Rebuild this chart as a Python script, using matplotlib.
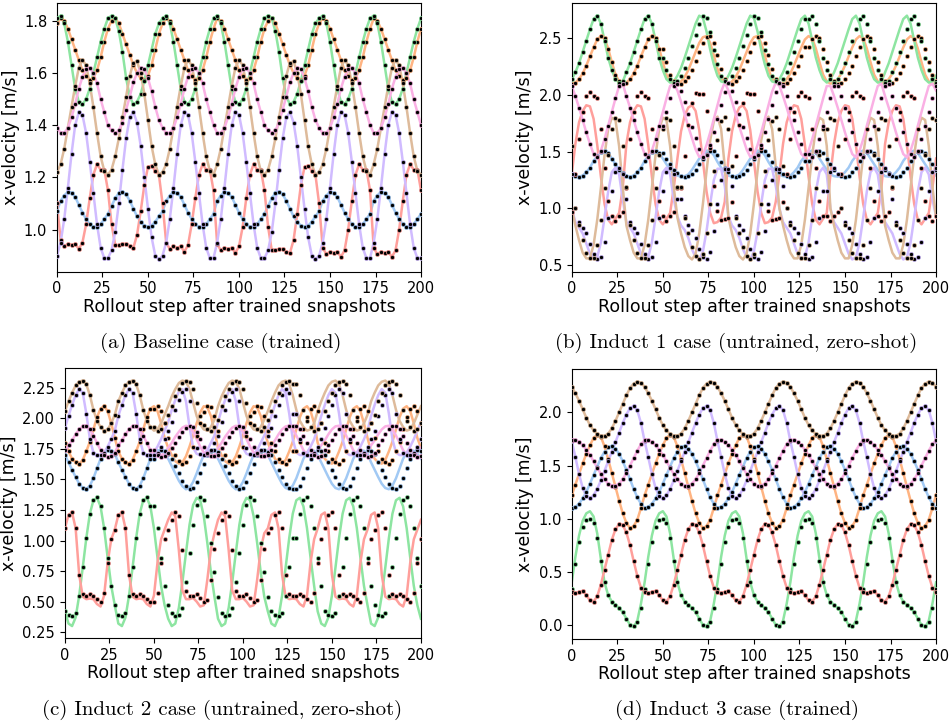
import numpy as np
import matplotlib
matplotlib.use("Agg")
import matplotlib.pyplot as plt
from matplotlib.colors import to_rgba

# rollout steps (one sample every 2 steps)
steps = np.arange(0, 201, 2)
# pastel palette (blue, orange, green, red, purple, brown, pink)
colors = ["#a1c9f4", "#ffb482", "#8de5a1", "#ff9f9b", "#d0bbff", "#debb9b", "#fab0e4"]

# ---------------- (a) Baseline case ----------------
blue_a = [1.07,1.11,1.13,1.145,1.14,1.125,1.095,1.065,1.04,1.02,1.01,1.01,1.02,1.04,1.06,
          1.09,1.12,1.14,1.145,1.135,1.11,1.08,1.05,1.03,1.015,1.01,1.015,1.03,1.05,
          1.07,1.11,1.13,1.145,1.14,1.125,1.095,1.065,1.04,1.02,1.01,1.01,1.02,1.04,1.06,
          1.11,1.13,1.145,1.14,1.125,1.095,1.065,1.04,1.02,1.01,1.01,1.02,1.04,1.06,
          1.09,1.12,1.14,1.145,1.135,1.11,1.08,1.05,1.03,1.015,1.01,1.015,1.03,1.05,
          1.07,1.11,1.13,1.145,1.14,1.125,1.095,1.065,1.04,1.02,1.01,1.01,1.02,1.04,1.06,
          1.11,1.13,1.145,1.14,1.125,1.095,1.065,1.04,1.02,1.01,1.01,1.02,1.04,1.06]
orange_a = [1.79,1.81,1.80,1.77,1.73,1.69,1.65,1.61,1.59,1.575,1.58,1.61,1.66,1.72,1.77,
            1.80,1.81,1.79,1.75,1.71,1.67,1.63,1.60,1.58,1.575,1.59,1.63,1.69,1.75,
            1.79,1.81,1.80,1.77,1.73,1.69,1.65,1.61,1.59,1.575,1.58,1.61,1.66,1.72,1.77,
            1.81,1.80,1.77,1.73,1.69,1.65,1.61,1.59,1.575,1.58,1.61,1.66,1.72,1.77,
            1.80,1.81,1.79,1.75,1.71,1.67,1.63,1.60,1.58,1.575,1.59,1.63,1.69,1.75,
            1.79,1.81,1.80,1.77,1.73,1.69,1.65,1.61,1.59,1.575,1.58,1.61,1.66,1.72,1.77,
            1.81,1.80,1.77,1.73,1.69,1.65,1.61,1.59,1.575,1.58,1.61,1.66,1.72,1.77]
green_a = [1.81,1.82,1.79,1.72,1.63,1.54,1.49,1.48,1.50,1.54,1.60,1.66,1.72,1.77,1.81,
           1.82,1.81,1.76,1.68,1.58,1.51,1.48,1.49,1.52,1.57,1.63,1.69,1.75,1.79,
           1.81,1.82,1.79,1.72,1.63,1.54,1.49,1.48,1.50,1.54,1.60,1.66,1.72,1.77,1.81,
           1.82,1.79,1.72,1.63,1.54,1.49,1.48,1.50,1.54,1.60,1.66,1.72,1.77,1.81,
           1.82,1.81,1.76,1.68,1.58,1.51,1.48,1.49,1.52,1.57,1.63,1.69,1.75,1.79,
           1.81,1.82,1.79,1.72,1.63,1.54,1.49,1.48,1.50,1.54,1.60,1.66,1.72,1.77,1.81,
           1.82,1.79,1.72,1.63,1.54,1.49,1.48,1.50,1.54,1.60,1.66,1.72,1.77,1.81]
red_a = [1.10,0.96,0.935,0.945,0.94,0.945,0.925,0.95,1.02,1.12,1.21,1.25,1.23,1.23,1.15,
         1.02,0.94,0.94,0.945,0.945,0.935,0.93,0.98,1.07,1.17,1.24,1.245,1.225,1.21,
         1.10,0.95,0.925,0.935,0.93,0.935,0.915,0.94,1.02,1.12,1.21,1.25,1.23,1.23,1.15,
         0.945,0.92,0.93,0.925,0.93,0.91,0.935,1.01,1.12,1.21,1.25,1.23,1.23,1.15,
         1.01,0.92,0.92,0.925,0.925,0.915,0.91,0.96,1.06,1.17,1.24,1.245,1.225,1.21,
         1.10,0.93,0.905,0.915,0.91,0.915,0.895,0.92,1.00,1.11,1.21,1.25,1.23,1.23,1.15,
         0.93,0.905,0.915,0.91,0.915,0.895,0.92,1.00,1.11,1.21,1.25,1.23,1.23,1.15]
purple_a = [0.90,0.95,1.04,1.16,1.29,1.40,1.45,1.44,1.37,1.26,1.14,1.02,0.93,0.89,0.89,
            0.92,0.99,1.10,1.23,1.35,1.43,1.45,1.41,1.32,1.20,1.08,0.97,0.90,0.885,
            0.90,0.95,1.04,1.16,1.29,1.40,1.45,1.44,1.37,1.26,1.14,1.02,0.93,0.89,0.89,
            0.95,1.04,1.16,1.29,1.40,1.45,1.44,1.37,1.26,1.14,1.02,0.93,0.89,0.89,
            0.92,0.99,1.10,1.23,1.35,1.43,1.45,1.41,1.32,1.20,1.08,0.97,0.90,0.885,
            0.90,0.95,1.04,1.16,1.29,1.40,1.45,1.44,1.37,1.26,1.14,1.02,0.93,0.89,0.89,
            0.95,1.04,1.16,1.29,1.40,1.45,1.44,1.37,1.26,1.14,1.02,0.93,0.89,0.89]
brown_a = [1.22,1.25,1.31,1.39,1.47,1.55,1.62,1.65,1.63,1.56,1.47,1.37,1.28,1.225,1.21,
           1.23,1.28,1.35,1.43,1.51,1.59,1.64,1.645,1.60,1.52,1.42,1.32,1.25,1.21,
           1.22,1.25,1.31,1.39,1.47,1.55,1.62,1.65,1.63,1.56,1.47,1.37,1.28,1.225,1.21,
           1.25,1.31,1.39,1.47,1.55,1.62,1.65,1.63,1.56,1.47,1.37,1.28,1.225,1.21,
           1.23,1.28,1.35,1.43,1.51,1.59,1.64,1.645,1.60,1.52,1.42,1.32,1.25,1.21,
           1.22,1.25,1.31,1.39,1.47,1.55,1.62,1.65,1.63,1.56,1.47,1.37,1.28,1.225,1.21,
           1.25,1.31,1.39,1.47,1.55,1.62,1.65,1.63,1.56,1.47,1.37,1.28,1.225,1.21]
pink_a = [1.39,1.37,1.37,1.39,1.43,1.48,1.54,1.585,1.615,1.62,1.60,1.56,1.50,1.45,1.40,
          1.38,1.37,1.38,1.41,1.46,1.51,1.565,1.60,1.62,1.615,1.58,1.53,1.47,1.42,
          1.39,1.37,1.37,1.39,1.43,1.48,1.54,1.585,1.615,1.62,1.60,1.56,1.50,1.45,1.40,
          1.37,1.37,1.39,1.43,1.48,1.54,1.585,1.615,1.62,1.60,1.56,1.50,1.45,1.40,
          1.38,1.37,1.38,1.41,1.46,1.51,1.565,1.60,1.62,1.615,1.58,1.53,1.47,1.42,
          1.39,1.37,1.37,1.39,1.43,1.48,1.54,1.585,1.615,1.62,1.60,1.56,1.50,1.45,1.40,
          1.37,1.37,1.39,1.43,1.48,1.54,1.585,1.615,1.62,1.60,1.56,1.50,1.45,1.40]

# ---------------- (b) Induct 1 case: ground truth (lines) ----------------
blue_b = [1.30,1.285,1.28,1.29,1.32,1.36,1.42,1.46,1.50,1.51,1.49,1.44,1.39,1.34,1.31,
          1.285,1.28,1.29,1.32,1.36,1.42,1.46,1.50,1.51,1.49,1.44,1.39,1.34,1.31,
          1.29,1.28,1.285,1.30,1.34,1.39,1.44,1.48,1.51,1.505,1.47,1.41,1.36,1.32,
          1.29,1.28,1.285,1.30,1.34,1.39,1.44,1.48,1.51,1.505,1.47,1.41,1.36,1.32,
          1.30,1.285,1.28,1.29,1.32,1.36,1.42,1.46,1.50,1.51,1.49,1.44,1.39,1.34,
          1.30,1.285,1.28,1.29,1.32,1.36,1.42,1.46,1.50,1.51,1.49,1.44,1.39,1.34,1.31,
          1.285,1.28,1.29,1.32,1.36,1.42,1.46,1.50,1.51,1.49,1.44,1.39,1.34,1.31,
          1.29]
orange_b = [2.10,2.11,2.14,2.19,2.26,2.34,2.42,2.49,2.52,2.50,2.41,2.29,2.18,2.12,2.10,
            2.11,2.14,2.19,2.26,2.34,2.42,2.49,2.52,2.50,2.41,2.29,2.18,2.12,2.10,
            2.10,2.12,2.16,2.22,2.30,2.38,2.46,2.51,2.52,2.46,2.35,2.23,2.14,2.11,
            2.10,2.12,2.16,2.22,2.30,2.38,2.46,2.51,2.52,2.46,2.35,2.23,2.14,2.11,
            2.10,2.11,2.14,2.19,2.26,2.34,2.42,2.49,2.52,2.50,2.41,2.29,2.18,2.12,
            2.10,2.11,2.14,2.19,2.26,2.34,2.42,2.49,2.52,2.50,2.41,2.29,2.18,2.12,2.10,
            2.11,2.14,2.19,2.26,2.34,2.42,2.49,2.52,2.50,2.41,2.29,2.18,2.12,2.10,
            2.10]
green_b = [2.14,2.20,2.28,2.38,2.48,2.58,2.67,2.70,2.63,2.48,2.33,2.22,2.14,2.11,2.12,
           2.20,2.28,2.38,2.48,2.58,2.67,2.70,2.63,2.48,2.33,2.22,2.14,2.11,2.12,
           2.17,2.24,2.33,2.43,2.53,2.63,2.70,2.68,2.56,2.40,2.27,2.17,2.12,2.11,
           2.17,2.24,2.33,2.43,2.53,2.63,2.70,2.68,2.56,2.40,2.27,2.17,2.12,2.11,
           2.14,2.20,2.28,2.38,2.48,2.58,2.67,2.70,2.63,2.48,2.33,2.22,2.14,2.11,
           2.14,2.20,2.28,2.38,2.48,2.58,2.67,2.70,2.63,2.48,2.33,2.22,2.14,2.11,2.12,
           2.20,2.28,2.38,2.48,2.58,2.67,2.70,2.63,2.48,2.33,2.22,2.14,2.11,2.12,
           2.17]
red_b = [1.30,1.57,1.76,1.86,1.91,1.90,1.79,1.56,1.28,1.04,0.90,0.86,0.91,0.96,1.18,
         1.57,1.76,1.86,1.91,1.90,1.79,1.56,1.28,1.04,0.90,0.86,0.91,0.96,1.18,
         1.44,1.68,1.82,1.89,1.91,1.86,1.69,1.42,1.15,0.96,0.87,0.88,0.92,1.06,
         1.44,1.68,1.82,1.89,1.91,1.86,1.69,1.42,1.15,0.96,0.87,0.88,0.92,1.06,
         1.30,1.57,1.76,1.86,1.91,1.90,1.79,1.56,1.28,1.04,0.90,0.86,0.91,0.96,
         1.30,1.57,1.76,1.86,1.91,1.90,1.79,1.56,1.28,1.04,0.90,0.86,0.91,0.96,1.18,
         1.57,1.76,1.86,1.91,1.90,1.79,1.56,1.28,1.04,0.90,0.86,0.91,0.96,1.18,
         1.44]
purple_b = [1.00,0.88,0.83,0.78,0.69,0.60,0.55,0.57,0.70,0.92,1.15,1.32,1.36,1.30,1.08,
            0.88,0.83,0.78,0.69,0.60,0.55,0.57,0.70,0.92,1.15,1.32,1.36,1.30,1.08,
            0.93,0.85,0.81,0.74,0.64,0.57,0.55,0.62,0.80,1.04,1.25,1.35,1.35,1.20,
            0.93,0.85,0.81,0.74,0.64,0.57,0.55,0.62,0.80,1.04,1.25,1.35,1.35,1.20,
            1.00,0.88,0.83,0.78,0.69,0.60,0.55,0.57,0.70,0.92,1.15,1.32,1.36,1.30,
            1.00,0.88,0.83,0.78,0.69,0.60,0.55,0.57,0.70,0.92,1.15,1.32,1.36,1.30,1.08,
            0.88,0.83,0.78,0.69,0.60,0.55,0.57,0.70,0.92,1.15,1.32,1.36,1.30,1.08,
            0.93]
brown_b = [1.00,0.85,0.72,0.61,0.56,0.56,0.68,0.90,1.18,1.47,1.70,1.80,1.78,1.55,1.19,
           0.85,0.72,0.61,0.56,0.56,0.68,0.90,1.18,1.47,1.70,1.80,1.78,1.55,1.19,
           0.92,0.78,0.66,0.58,0.55,0.60,0.78,1.04,1.33,1.60,1.77,1.81,1.70,1.37,
           0.92,0.78,0.66,0.58,0.55,0.60,0.78,1.04,1.33,1.60,1.77,1.81,1.70,1.37,
           1.00,0.85,0.72,0.61,0.56,0.56,0.68,0.90,1.18,1.47,1.70,1.80,1.78,1.55,
           1.00,0.85,0.72,0.61,0.56,0.56,0.68,0.90,1.18,1.47,1.70,1.80,1.78,1.55,1.19,
           0.85,0.72,0.61,0.56,0.56,0.68,0.90,1.18,1.47,1.70,1.80,1.78,1.55,1.19,
           0.92]
pink_b = [2.08,1.99,1.89,1.78,1.67,1.57,1.48,1.45,1.51,1.61,1.73,1.85,1.97,2.08,2.10,
          1.99,1.89,1.78,1.67,1.57,1.48,1.45,1.51,1.61,1.73,1.85,1.97,2.08,2.10,
          2.04,1.94,1.83,1.72,1.62,1.52,1.455,1.47,1.56,1.67,1.79,1.91,2.03,2.11,
          2.04,1.94,1.83,1.72,1.62,1.52,1.455,1.47,1.56,1.67,1.79,1.91,2.03,2.11,
          2.08,1.99,1.89,1.78,1.67,1.57,1.48,1.45,1.51,1.61,1.73,1.85,1.97,2.08,
          2.08,1.99,1.89,1.78,1.67,1.57,1.48,1.45,1.51,1.61,1.73,1.85,1.97,2.08,2.10,
          1.99,1.89,1.78,1.67,1.57,1.48,1.45,1.51,1.61,1.73,1.85,1.97,2.08,2.10,
          2.04]

# ---------------- (b) Induct 1 case: rollout (dots) ----------------
blue_b_pred = [1.30,1.285,1.28,1.29,1.32,1.36,1.42,1.46,1.50,1.51,1.49,1.44,1.39,1.34,1.31,
               1.285,1.28,1.29,1.32,1.36,1.42,1.46,1.50,1.51,1.49,
               1.49,1.44,1.39,1.34,1.31,
               1.29,1.28,1.285,1.30,1.34,1.39,1.44,1.48,1.51,1.505,1.47,1.41,1.36,1.32,
               1.29,1.28,1.285,1.30,1.34,1.39,1.44,1.48,1.51,1.505,1.47,1.41,1.36,1.32,
               1.30,1.285,1.28,1.29,1.32,1.36,1.42,
               1.42,1.46,1.50,1.51,1.49,1.44,1.39,1.34,
               1.30,1.285,1.28,1.29,1.32,1.36,1.42,1.46,1.50,1.51,1.49,1.44,1.39,1.34,1.31,
               1.285,1.28,1.29,1.32,1.36,1.42,1.46,1.50,1.51,1.49,1.44,1.39,1.34]
orange_b_pred = [2.10,2.11,2.14,2.19,2.26,2.34,2.42,2.49,2.52,2.50,2.41,2.29,2.18,2.12,2.10,
                 2.11,2.14,2.19,2.26,2.34,2.42,2.49,2.52,2.50,2.41,
                 2.41,2.29,2.18,2.12,2.10,
                 2.10,2.12,2.16,2.22,2.30,2.38,2.46,2.51,2.52,2.46,2.35,2.23,2.14,2.11,
                 2.10,2.12,2.16,2.22,2.30,2.38,2.46,2.51,2.52,2.46,2.35,2.23,2.14,2.11,
                 2.10,2.11,2.14,2.19,2.26,2.34,2.42,
                 2.42,2.49,2.52,2.50,2.41,2.29,2.18,2.12,
                 2.10,2.11,2.14,2.19,2.26,2.34,2.42,2.49,2.52,2.50,2.41,2.29,2.18,2.12,2.10,
                 2.11,2.14,2.19,2.26,2.34,2.42,2.49,2.52,2.50,2.41,2.29,2.18,2.12]
green_b_pred = [2.14,2.20,2.28,2.38,2.48,2.58,2.67,2.70,2.63,2.48,2.33,2.22,2.14,2.11,2.12,
                2.20,2.28,2.38,2.48,2.58,2.67,2.70,2.63,2.48,2.33,
                2.33,2.22,2.14,2.11,2.12,
                2.17,2.24,2.33,2.43,2.53,2.63,2.70,2.68,2.56,2.40,2.27,2.17,2.12,2.11,
                2.17,2.24,2.33,2.43,2.53,2.63,2.70,2.68,2.56,2.40,2.27,2.17,2.12,2.11,
                2.14,2.20,2.28,2.38,2.48,2.58,2.67,
                2.67,2.70,2.63,2.48,2.33,2.22,2.14,2.11,
                2.14,2.20,2.28,2.38,2.48,2.58,2.67,2.70,2.63,2.48,2.33,2.22,2.14,2.11,2.12,
                2.20,2.28,2.38,2.48,2.58,2.67,2.70,2.63,2.48,2.33,2.22,2.14,2.11]
red_b_pred = [0.97,
              1.30,1.61,1.85,1.99,2.03,1.99,1.97,1.70,1.36,1.07,0.93,0.89,0.93,0.97,1.18,
              1.61,1.85,1.99,2.03,1.99,1.97,1.70,1.36,1.07,0.93,0.89,0.93,0.97,1.18,
              1.18,
              1.46,1.74,1.93,2.02,2.01,2.01,1.86,1.53,1.20,0.98,0.90,0.91,0.92,1.06,
              1.46,1.74,1.93,2.02,2.01,2.01,1.86,1.53,1.20,0.98,0.90,0.91,0.92,1.06,
              1.30,1.61,1.85,1.99,2.03,1.99,1.97,1.70,1.36,1.07,0.93,
              0.93,0.89,0.93,0.97,
              1.30,1.61,1.85,1.99,2.03,1.99,1.97,1.70,1.36,1.07,0.93,0.89,0.93,0.97,1.18,
              1.61,1.85,1.99,2.03,1.99,1.97,1.70,1.36,1.07,0.93,0.89,0.93]
purple_b_pred = [1.30,
                 1.00,0.88,0.83,0.78,0.69,0.60,0.55,0.57,0.70,0.92,1.15,1.32,1.36,1.30,1.08,
                 0.88,0.83,0.78,0.69,0.60,0.55,0.57,0.70,0.92,1.15,1.32,1.36,1.30,1.08,
                 1.08,
                 0.93,0.85,0.81,0.74,0.64,0.57,0.55,0.62,0.80,1.04,1.25,1.35,1.35,1.20,
                 0.93,0.85,0.81,0.74,0.64,0.57,0.55,0.62,0.80,1.04,1.25,1.35,1.35,1.20,
                 1.00,0.88,0.83,0.78,0.69,0.60,0.55,0.57,0.70,0.92,1.15,
                 1.15,1.32,1.36,1.30,
                 1.00,0.88,0.83,0.78,0.69,0.60,0.55,0.57,0.70,0.92,1.15,1.32,1.36,1.30,1.08,
                 0.88,0.83,0.78,0.69,0.60,0.55,0.57,0.70,0.92,1.15,1.32,1.36]
brown_b_pred = [1.55,
                1.00,0.85,0.72,0.61,0.56,0.56,0.68,0.90,1.18,1.47,1.70,1.80,1.78,1.55,1.19,
                0.85,0.72,0.61,0.56,0.56,0.68,0.90,1.18,1.47,1.70,1.80,1.78,1.55,1.19,
                1.19,
                0.92,0.78,0.66,0.58,0.55,0.60,0.78,1.04,1.33,1.60,1.77,1.81,1.70,1.37,
                0.92,0.78,0.66,0.58,0.55,0.60,0.78,1.04,1.33,1.60,1.77,1.81,1.70,1.37,
                1.00,0.85,0.72,0.61,0.56,0.56,0.68,0.90,1.18,1.47,1.70,
                1.70,1.80,1.78,1.55,
                1.00,0.85,0.72,0.61,0.56,0.56,0.68,0.90,1.18,1.47,1.70,1.80,1.78,1.55,1.19,
                0.85,0.72,0.61,0.56,0.56,0.68,0.90,1.18,1.47,1.70,1.80,1.78]
pink_b_pred = [2.08,1.99,1.89,1.78,1.67,1.57,1.48,1.45,1.51,1.61,1.73,1.85,1.97,2.08,2.10,
               1.99,1.89,1.78,1.67,1.57,1.48,1.45,1.51,1.61,1.73,
               1.73,1.85,1.97,2.08,2.10,
               2.04,1.94,1.83,1.72,1.62,1.52,1.455,1.47,1.56,1.67,1.79,1.91,2.03,2.11,
               2.04,1.94,1.83,1.72,1.62,1.52,1.455,1.47,1.56,1.67,1.79,1.91,2.03,2.11,
               2.08,1.99,1.89,1.78,1.67,1.57,1.48,
               1.48,1.45,1.51,1.61,1.73,1.85,1.97,2.08,
               2.08,1.99,1.89,1.78,1.67,1.57,1.48,1.45,1.51,1.61,1.73,1.85,1.97,2.08,2.10,
               1.99,1.89,1.78,1.67,1.57,1.48,1.45,1.51,1.61,1.73,1.85,1.97,2.08]

# ---------------- (c) Induct 2 case: ground truth (lines) ----------------
blue_c = [1.70,1.64,1.58,1.52,1.465,1.43,1.42,1.45,1.51,1.59,1.67,1.72,1.74,1.735,1.71,
          1.64,1.58,1.52,1.465,1.43,1.42,1.45,1.51,1.59,1.67,1.72,1.74,1.735,1.71,
          1.67,1.61,1.55,1.49,1.445,1.42,1.43,1.48,1.55,1.63,1.70,1.735,1.74,1.725,
          1.67,1.61,1.55,1.49,1.445,1.42,1.43,1.48,1.55,1.63,1.70,1.735,1.74,1.725,
          1.70,1.64,1.58,1.52,1.465,1.43,1.42,1.45,1.51,1.59,1.67,1.72,1.74,1.735,
          1.70,1.64,1.58,1.52,1.465,1.43,1.42,1.45,1.51,1.59,1.67,1.72,1.74,1.735,1.71,
          1.64,1.58,1.52,1.465,1.43,1.42,1.45,1.51,1.59,1.67,1.72,1.74,1.735,1.71,
          1.67]
orange_c = [1.80,1.73,1.67,1.64,1.63,1.66,1.73,1.81,1.91,2.01,2.08,2.10,2.06,1.96,1.84,
            1.73,1.67,1.64,1.63,1.66,1.73,1.81,1.91,2.01,2.08,2.10,2.06,1.96,1.84,
            1.76,1.70,1.65,1.63,1.64,1.69,1.77,1.86,1.96,2.05,2.10,2.09,2.02,1.90,
            1.76,1.70,1.65,1.63,1.64,1.69,1.77,1.86,1.96,2.05,2.10,2.09,2.02,1.90,
            1.80,1.73,1.67,1.64,1.63,1.66,1.73,1.81,1.91,2.01,2.08,2.10,2.06,1.96,
            1.80,1.73,1.67,1.64,1.63,1.66,1.73,1.81,1.91,2.01,2.08,2.10,2.06,1.96,1.84,
            1.73,1.67,1.64,1.63,1.66,1.73,1.81,1.91,2.01,2.08,2.10,2.06,1.96,1.84,
            1.76]
green_c = [0.42,0.32,0.30,0.37,0.55,0.78,1.02,1.22,1.33,1.35,1.28,1.10,0.86,0.63,0.47,
           0.32,0.30,0.37,0.55,0.78,1.02,1.22,1.33,1.35,1.28,1.10,0.86,0.63,0.47,
           0.36,0.30,0.32,0.45,0.66,0.90,1.13,1.29,1.35,1.33,1.20,0.98,0.74,0.54,
           0.36,0.30,0.32,0.45,0.66,0.90,1.13,1.29,1.35,1.33,1.20,0.98,0.74,0.54,
           0.42,0.32,0.30,0.37,0.55,0.78,1.02,1.22,1.33,1.35,1.28,1.10,0.86,0.63,
           0.42,0.32,0.30,0.37,0.55,0.78,1.02,1.22,1.33,1.35,1.28,1.10,0.86,0.63,0.47,
           0.32,0.30,0.37,0.55,0.78,1.02,1.22,1.33,1.35,1.28,1.10,0.86,0.63,0.47,
           0.36]
red_c = [1.10,1.21,1.23,1.10,0.72,0.54,0.52,0.525,0.52,0.48,0.46,0.55,0.82,1.01,1.09,
         1.21,1.23,1.10,0.72,0.54,0.52,0.525,0.52,0.48,0.46,0.55,0.82,1.01,1.09,
         1.17,1.23,1.20,0.92,0.59,0.52,0.52,0.53,0.50,0.46,0.47,0.68,0.93,1.06,
         1.17,1.23,1.20,0.92,0.59,0.52,0.52,0.53,0.50,0.46,0.47,0.68,0.93,1.06,
         1.10,1.21,1.23,1.10,0.72,0.54,0.52,0.525,0.52,0.48,0.46,0.55,0.82,1.01,
         1.10,1.21,1.23,1.10,0.72,0.54,0.52,0.525,0.52,0.48,0.46,0.55,0.82,1.01,1.09,
         1.21,1.23,1.10,0.72,0.54,0.52,0.525,0.52,0.48,0.46,0.55,0.82,1.01,1.09,
         1.17]
purple_c = [1.92,2.02,2.11,2.19,2.24,2.21,2.04,1.83,1.72,1.70,1.70,1.72,1.77,1.83,1.90,
            2.02,2.11,2.19,2.24,2.21,2.04,1.83,1.72,1.70,1.70,1.72,1.77,1.83,1.90,
            1.97,2.07,2.15,2.22,2.24,2.14,1.93,1.76,1.71,1.70,1.71,1.74,1.80,1.86,
            1.97,2.07,2.15,2.22,2.24,2.14,1.93,1.76,1.71,1.70,1.71,1.74,1.80,1.86,
            1.92,2.02,2.11,2.19,2.24,2.21,2.04,1.83,1.72,1.70,1.70,1.72,1.77,1.83,
            1.92,2.02,2.11,2.19,2.24,2.21,2.04,1.83,1.72,1.70,1.70,1.72,1.77,1.83,1.90,
            2.02,2.11,2.19,2.24,2.21,2.04,1.83,1.72,1.70,1.70,1.72,1.77,1.83,1.90,
            1.97]
brown_c = [2.06,2.14,2.21,2.27,2.30,2.31,2.28,2.19,2.07,1.98,1.93,1.90,1.91,1.96,2.03,
           2.14,2.21,2.27,2.30,2.31,2.28,2.19,2.07,1.98,1.93,1.90,1.91,1.96,2.03,
           2.10,2.18,2.24,2.29,2.31,2.30,2.24,2.13,2.02,1.95,1.91,1.90,1.93,1.99,
           2.10,2.18,2.24,2.29,2.31,2.30,2.24,2.13,2.02,1.95,1.91,1.90,1.93,1.99,
           2.06,2.14,2.21,2.27,2.30,2.31,2.28,2.19,2.07,1.98,1.93,1.90,1.91,1.96,
           2.06,2.14,2.21,2.27,2.30,2.31,2.28,2.19,2.07,1.98,1.93,1.90,1.91,1.96,2.03,
           2.14,2.21,2.27,2.30,2.31,2.28,2.19,2.07,1.98,1.93,1.90,1.91,1.96,2.03,
           2.10]
pink_c = [1.74,1.78,1.82,1.87,1.91,1.935,1.94,1.91,1.86,1.80,1.74,1.70,1.685,1.695,1.72,
          1.78,1.82,1.87,1.91,1.935,1.94,1.91,1.86,1.80,1.74,1.70,1.685,1.695,1.72,
          1.76,1.80,1.85,1.89,1.925,1.94,1.93,1.89,1.83,1.77,1.72,1.69,1.69,1.70,
          1.76,1.80,1.85,1.89,1.925,1.94,1.93,1.89,1.83,1.77,1.72,1.69,1.69,1.70,
          1.74,1.78,1.82,1.87,1.91,1.935,1.94,1.91,1.86,1.80,1.74,1.70,1.685,1.695,
          1.74,1.78,1.82,1.87,1.91,1.935,1.94,1.91,1.86,1.80,1.74,1.70,1.685,1.695,1.72,
          1.78,1.82,1.87,1.91,1.935,1.94,1.91,1.86,1.80,1.74,1.70,1.685,1.695,1.72,
          1.76]

# ---------------- (c) Induct 2 case: rollout (dots) ----------------
blue_c_pred = [1.70,1.64,1.58,1.52,1.465,1.43,1.42,1.45,1.51,1.59,1.67,1.72,1.74,1.735,1.71,
               1.64,1.58,1.52,1.465,1.43,1.42,1.45,1.51,1.59,1.67,
               1.67,1.72,1.74,1.735,1.71,
               1.67,1.61,1.55,1.49,1.445,1.42,1.43,1.48,1.55,1.63,1.70,1.735,1.74,1.725,
               1.67,1.61,1.55,1.49,1.445,1.42,1.43,1.48,1.55,1.63,1.70,1.735,1.74,1.725,
               1.70,1.64,1.58,1.52,1.465,1.43,1.42,
               1.42,1.45,1.51,1.59,1.67,1.72,1.74,1.735,
               1.70,1.64,1.58,1.52,1.465,1.43,1.42,1.45,1.51,1.59,1.67,1.72,1.74,1.735,1.71,
               1.64,1.58,1.52,1.465,1.43,1.42,1.45,1.51,1.59,1.67,1.72,1.74,1.735]
orange_c_pred = [1.80,1.73,1.67,1.64,1.63,1.66,1.73,1.81,1.91,2.01,2.08,2.10,2.06,1.96,1.84,
                 1.73,1.67,1.64,1.63,1.66,1.73,1.81,1.91,2.01,2.08,
                 2.08,2.10,2.06,1.96,1.84,
                 1.76,1.70,1.65,1.63,1.64,1.69,1.77,1.86,1.96,2.05,2.10,2.09,2.02,1.90,
                 1.76,1.70,1.65,1.63,1.64,1.69,1.77,1.86,1.96,2.05,2.10,2.09,2.02,1.90,
                 1.80,1.73,1.67,1.64,1.63,1.66,1.73,
                 1.73,1.81,1.91,2.01,2.08,2.10,2.06,1.96,
                 1.80,1.73,1.67,1.64,1.63,1.66,1.73,1.81,1.91,2.01,2.08,2.10,2.06,1.96,1.84,
                 1.73,1.67,1.64,1.63,1.66,1.73,1.81,1.91,2.01,2.08,2.10,2.06,1.96]
green_c_pred = [0.42,0.39,0.38,0.41,0.55,0.78,1.02,1.22,1.33,1.36,1.28,1.10,0.86,0.63,0.47,
                0.39,0.38,0.41,0.55,0.78,1.02,1.22,1.33,1.36,1.28,
                1.28,1.10,0.86,0.63,0.47,
                0.41,0.38,0.39,0.45,0.66,0.90,1.13,1.29,1.36,1.33,1.20,0.98,0.74,0.54,
                0.41,0.38,0.39,0.45,0.66,0.90,1.13,1.29,1.36,1.33,1.20,0.98,0.74,0.54,
                0.42,0.39,0.38,0.41,0.55,0.78,1.02,
                1.02,1.22,1.33,1.36,1.28,1.10,0.86,0.63,
                0.42,0.39,0.38,0.41,0.55,0.78,1.02,1.22,1.33,1.36,1.28,1.10,0.86,0.63,0.47,
                0.39,0.38,0.41,0.55,0.78,1.02,1.22,1.33,1.36,1.28,1.10,0.86,0.63]
red_c_pred = [1.10,1.21,1.23,1.10,0.72,0.56,0.55,0.56,0.55,0.52,0.50,0.57,0.82,1.01,1.09,
              1.21,1.23,1.10,0.72,0.56,0.55,0.56,0.55,0.52,0.50,
              0.50,0.57,0.82,1.01,1.09,
              1.17,1.23,1.20,0.92,0.59,0.55,0.55,0.56,0.53,0.50,0.51,0.68,0.93,1.06,
              1.17,1.23,1.20,0.92,0.59,0.55,0.55,0.56,0.53,0.50,0.51,0.68,0.93,1.06,
              1.10,1.21,1.23,1.10,0.72,0.56,0.55,
              0.55,0.56,0.55,0.52,0.50,0.57,0.82,1.01,
              1.10,1.21,1.23,1.10,0.72,0.56,0.55,0.56,0.55,0.52,0.50,0.57,0.82,1.01,1.09,
              1.21,1.23,1.10,0.72,0.56,0.55,0.56,0.55,0.52,0.50,0.57,0.82,1.01]
purple_c_pred = [1.92,2.02,2.11,2.19,2.24,2.21,2.04,1.83,1.72,1.70,1.70,1.72,1.77,1.83,1.90,
                 2.02,2.11,2.19,2.24,2.21,2.04,1.83,1.72,1.70,1.70,
                 1.70,1.72,1.77,1.83,1.90,
                 1.97,2.07,2.15,2.22,2.24,2.14,1.93,1.76,1.71,1.70,1.71,1.74,1.80,1.86,
                 1.97,2.07,2.15,2.22,2.24,2.14,1.93,1.76,1.71,1.70,1.71,1.74,1.80,1.86,
                 1.92,2.02,2.11,2.19,2.24,2.21,2.04,
                 2.04,1.83,1.72,1.70,1.70,1.72,1.77,1.83,
                 1.92,2.02,2.11,2.19,2.24,2.21,2.04,1.83,1.72,1.70,1.70,1.72,1.77,1.83,1.90,
                 2.02,2.11,2.19,2.24,2.21,2.04,1.83,1.72,1.70,1.70,1.72,1.77,1.83]
brown_c_pred = [2.06,2.14,2.21,2.27,2.30,2.31,2.28,2.19,2.07,1.98,1.93,1.90,1.91,1.96,2.03,
                2.14,2.21,2.27,2.30,2.31,2.28,2.19,2.07,1.98,1.93,
                1.93,1.90,1.91,1.96,2.03,
                2.10,2.18,2.24,2.29,2.31,2.30,2.24,2.13,2.02,1.95,1.91,1.90,1.93,1.99,
                2.10,2.18,2.24,2.29,2.31,2.30,2.24,2.13,2.02,1.95,1.91,1.90,1.93,1.99,
                2.06,2.14,2.21,2.27,2.30,2.31,2.28,
                2.28,2.19,2.07,1.98,1.93,1.90,1.91,1.96,
                2.06,2.14,2.21,2.27,2.30,2.31,2.28,2.19,2.07,1.98,1.93,1.90,1.91,1.96,2.03,
                2.14,2.21,2.27,2.30,2.31,2.28,2.19,2.07,1.98,1.93,1.90,1.91,1.96]
pink_c_pred = [1.74,1.78,1.82,1.87,1.91,1.935,1.94,1.91,1.86,1.80,1.74,1.70,1.685,1.695,1.72,
               1.78,1.82,1.87,1.91,1.935,1.94,1.91,1.86,1.80,1.74,
               1.74,1.70,1.685,1.695,1.72,
               1.76,1.80,1.85,1.89,1.925,1.94,1.93,1.89,1.83,1.77,1.72,1.69,1.69,1.70,
               1.76,1.80,1.85,1.89,1.925,1.94,1.93,1.89,1.83,1.77,1.72,1.69,1.69,1.70,
               1.74,1.78,1.82,1.87,1.91,1.935,1.94,
               1.94,1.91,1.86,1.80,1.74,1.70,1.685,1.695,
               1.74,1.78,1.82,1.87,1.91,1.935,1.94,1.91,1.86,1.80,1.74,1.70,1.685,1.695,1.72,
               1.78,1.82,1.87,1.91,1.935,1.94,1.91,1.86,1.80,1.74,1.70,1.685,1.695]

# ---------------- (d) Induct 3 case ----------------
blue_d = [1.10,1.11,1.14,1.19,1.25,1.33,1.41,1.49,1.57,1.63,1.67,1.68,1.66,1.61,1.54,1.46,1.37,1.28,1.20,1.14,
          1.10,1.11,1.14,1.19,1.25,1.33,1.41,1.49,1.57,1.63,1.67,1.68,1.66,1.61,1.54,1.46,1.37,1.28,1.20,1.14,
          1.10,1.11,1.14,1.19,1.25,1.33,1.41,1.49,1.57,1.63,1.67,1.68,1.66,1.61,1.54,1.46,1.37,1.28,1.20,1.14,
          1.10,1.11,1.14,1.19,1.25,1.33,1.41,1.49,1.57,1.63,1.67,1.68,1.66,1.61,1.54,1.46,1.37,1.28,1.20,1.14,
          1.10,1.11,1.14,1.19,1.25,1.33,1.41,1.49,1.57,1.63,1.67,1.68,1.66,1.61,1.54,1.46,1.37,1.28,1.20,1.14,
          1.10]
orange_d = [1.22,1.32,1.42,1.52,1.61,1.69,1.76,1.79,1.77,1.68,1.56,1.43,1.30,1.17,1.05,0.96,0.91,0.93,0.99,1.10,
            1.22,1.32,1.42,1.52,1.61,1.69,1.76,1.79,1.77,1.68,1.56,1.43,1.30,1.17,1.05,0.96,0.91,0.93,0.99,1.10,
            1.22,1.32,1.42,1.52,1.61,1.69,1.76,1.79,1.77,1.68,1.56,1.43,1.30,1.17,1.05,0.96,0.91,0.93,0.99,1.10,
            1.22,1.32,1.42,1.52,1.61,1.69,1.76,1.79,1.77,1.68,1.56,1.43,1.30,1.17,1.05,0.96,0.91,0.93,0.99,1.10,
            1.22,1.32,1.42,1.52,1.61,1.69,1.76,1.79,1.77,1.68,1.56,1.43,1.30,1.17,1.05,0.96,0.91,0.93,0.99,1.10,
            1.22]
green_d = [0.40,0.64,0.84,0.98,1.05,1.07,1.02,0.86,0.62,0.40,0.28,0.22,0.19,0.16,0.12,0.06,0.00,-0.02,0.04,0.20,
           0.40,0.64,0.84,0.98,1.05,1.07,1.02,0.86,0.62,0.40,0.28,0.22,0.19,0.16,0.12,0.06,0.00,-0.02,0.04,0.20,
           0.40,0.64,0.84,0.98,1.05,1.07,1.02,0.86,0.62,0.40,0.28,0.22,0.19,0.16,0.12,0.06,0.00,-0.02,0.04,0.20,
           0.40,0.64,0.84,0.98,1.05,1.07,1.02,0.86,0.62,0.40,0.28,0.22,0.19,0.16,0.12,0.06,0.00,-0.02,0.04,0.20,
           0.40,0.64,0.84,0.98,1.05,1.07,1.02,0.86,0.62,0.40,0.28,0.22,0.19,0.16,0.12,0.06,0.00,-0.02,0.04,0.20,
           0.40]
green_d_pred = [0.34,0.57,0.78,0.92,0.99,1.00,0.96,0.82,0.60,0.40,0.28,0.22,0.19,0.16,0.12,0.06,0.00,-0.01,0.03,0.16,
                0.34,0.57,0.78,0.92,0.99,1.00,0.96,0.82,0.60,0.40,0.28,0.22,0.19,0.16,0.12,0.06,0.00,-0.01,0.03,0.16,
                0.34,0.57,0.78,0.92,0.99,1.00,0.96,0.82,0.60,0.40,0.28,0.22,0.19,0.16,0.12,0.06,0.00,-0.01,0.03,0.16,
                0.34,0.57,0.78,0.92,0.99,1.00,0.96,0.82,0.60,0.40,0.28,0.22,0.19,0.16,0.12,0.06,0.00,-0.01,0.03,0.16,
                0.34,0.57,0.78,0.92,0.99,1.00,0.96,0.82,0.60,0.40,0.28,0.22,0.19,0.16,0.12,0.06,0.00,-0.01,0.03,0.16,
                0.34]
red_d = [0.31,0.30,0.31,0.32,0.28,0.23,0.22,0.27,0.38,0.52,0.66,0.80,0.90,0.95,0.94,0.87,0.75,0.60,0.46,0.35,
         0.31,0.30,0.31,0.32,0.28,0.23,0.22,0.27,0.38,0.52,0.66,0.80,0.90,0.95,0.94,0.87,0.75,0.60,0.46,0.35,
         0.31,0.30,0.31,0.32,0.28,0.23,0.22,0.27,0.38,0.52,0.66,0.80,0.90,0.95,0.94,0.87,0.75,0.60,0.46,0.35,
         0.31,0.30,0.31,0.32,0.28,0.23,0.22,0.27,0.38,0.52,0.66,0.80,0.90,0.95,0.94,0.87,0.75,0.60,0.46,0.35,
         0.31,0.30,0.31,0.32,0.28,0.23,0.22,0.27,0.38,0.52,0.66,0.80,0.90,0.95,0.94,0.87,0.75,0.60,0.46,0.35,
         0.31]
purple_d = [1.73,1.58,1.42,1.29,1.21,1.19,1.22,1.28,1.36,1.45,1.54,1.63,1.72,1.81,1.90,1.98,2.04,2.06,2.02,1.90,
            1.73,1.58,1.42,1.29,1.21,1.19,1.22,1.28,1.36,1.45,1.54,1.63,1.72,1.81,1.90,1.98,2.04,2.06,2.02,1.90,
            1.73,1.58,1.42,1.29,1.21,1.19,1.22,1.28,1.36,1.45,1.54,1.63,1.72,1.81,1.90,1.98,2.04,2.06,2.02,1.90,
            1.73,1.58,1.42,1.29,1.21,1.19,1.22,1.28,1.36,1.45,1.54,1.63,1.72,1.81,1.90,1.98,2.04,2.06,2.02,1.90,
            1.73,1.58,1.42,1.29,1.21,1.19,1.22,1.28,1.36,1.45,1.54,1.63,1.72,1.81,1.90,1.98,2.04,2.06,2.02,1.90,
            1.73]
brown_d = [2.24,2.18,2.11,2.03,1.95,1.88,1.83,1.795,1.78,1.78,1.80,1.85,1.92,2.00,2.08,2.16,2.23,2.27,2.29,2.28,
           2.24,2.18,2.11,2.03,1.95,1.88,1.83,1.795,1.78,1.78,1.80,1.85,1.92,2.00,2.08,2.16,2.23,2.27,2.29,2.28,
           2.24,2.18,2.11,2.03,1.95,1.88,1.83,1.795,1.78,1.78,1.80,1.85,1.92,2.00,2.08,2.16,2.23,2.27,2.29,2.28,
           2.24,2.18,2.11,2.03,1.95,1.88,1.83,1.795,1.78,1.78,1.80,1.85,1.92,2.00,2.08,2.16,2.23,2.27,2.29,2.28,
           2.24,2.18,2.11,2.03,1.95,1.88,1.83,1.795,1.78,1.78,1.80,1.85,1.92,2.00,2.08,2.16,2.23,2.27,2.29,2.28,
           2.24]
pink_d = [1.74,1.74,1.72,1.69,1.65,1.60,1.54,1.48,1.42,1.37,1.33,1.31,1.31,1.33,1.37,1.43,1.50,1.57,1.64,1.70,
          1.74,1.74,1.72,1.69,1.65,1.60,1.54,1.48,1.42,1.37,1.33,1.31,1.31,1.33,1.37,1.43,1.50,1.57,1.64,1.70,
          1.74,1.74,1.72,1.69,1.65,1.60,1.54,1.48,1.42,1.37,1.33,1.31,1.31,1.33,1.37,1.43,1.50,1.57,1.64,1.70,
          1.74,1.74,1.72,1.69,1.65,1.60,1.54,1.48,1.42,1.37,1.33,1.31,1.31,1.33,1.37,1.43,1.50,1.57,1.64,1.70,
          1.74,1.74,1.72,1.69,1.65,1.60,1.54,1.48,1.42,1.37,1.33,1.31,1.31,1.33,1.37,1.43,1.50,1.57,1.64,1.70,
          1.74]

panels = [
    dict(pos=[0.0599, 0.6237, 0.3828, 0.3715],
         truth=[blue_a, orange_a, green_a, red_a, purple_a, brown_a, pink_a],
         pred=[blue_a, orange_a, green_a, red_a, purple_a, brown_a, pink_a],
         yticks=[1.0, 1.2, 1.4, 1.6, 1.8], fmt="{:.1f}",
         caption="(a) Baseline case (trained)", cap_xy=(221, 343)),
    dict(pos=[0.6012, 0.6237, 0.3831, 0.3715],
         truth=[blue_b, orange_b, green_b, red_b, purple_b, brown_b, pink_b],
         pred=[blue_b_pred, orange_b_pred, green_b_pred, red_b_pred, purple_b_pred, brown_b_pred, pink_b_pred],
         yticks=[0.5, 1.0, 1.5, 2.0, 2.5], fmt="{:.1f}",
         caption="(b) Induct 1 case (untrained, zero-shot)", cap_xy=(736, 343)),
    dict(pos=[0.0683, 0.1159, 0.3743, 0.374],
         truth=[blue_c, orange_c, green_c, red_c, purple_c, brown_c, pink_c],
         pred=[blue_c_pred, orange_c_pred, green_c_pred, red_c_pred, purple_c_pred, brown_c_pred, pink_c_pred],
         yticks=[0.25, 0.5, 0.75, 1.0, 1.25, 1.5, 1.75, 2.0, 2.25], fmt="{:.2f}",
         caption="(c) Induct 2 case (untrained, zero-shot)", cap_xy=(222, 710)),
    dict(pos=[0.6012, 0.1145, 0.3831, 0.374],
         truth=[blue_d, orange_d, green_d, red_d, purple_d, brown_d, pink_d],
         pred=[blue_d, orange_d, green_d_pred, red_d, purple_d, brown_d, pink_d],
         yticks=[0.0, 0.5, 1.0, 1.5, 2.0], fmt="{:.1f}",
         caption="(d) Induct 3 case (trained)", cap_xy=(737, 710)),
]

W, H = 951, 722
fig = plt.figure(figsize=(W / 100, H / 100), dpi=100)

for p in panels:
    ax = fig.add_axes(p["pos"])
    for y, c in zip(p["truth"], colors):
        ax.plot(steps, y, color=c, lw=1.8, zorder=2)
    for y, c in zip(p["pred"], colors):
        ax.plot(steps, y, ls="none", marker="o", ms=3.0, mfc="black",
                mec=to_rgba(c, 0.8), mew=0.6, zorder=3)
    ax.set_xlim(0, 200)
    ax.set_xticks([0, 25, 50, 75, 100, 125, 150, 175, 200])
    ax.set_yticks(p["yticks"])
    ax.set_yticklabels([p["fmt"].format(v) for v in p["yticks"]])
    ax.tick_params(labelsize=10.5)
    ax.set_xlabel("Rollout step after trained snapshots", fontsize=12.5, labelpad=1)
    ax.set_ylabel("x-velocity [m/s]", fontsize=12.5, labelpad=3)
    fig.text(p["cap_xy"][0] / W, 1 - p["cap_xy"][1] / H, p["caption"],
             ha="center", va="center", fontsize=15, family="cmr10")

fig.savefig("out.png", dpi=100)
